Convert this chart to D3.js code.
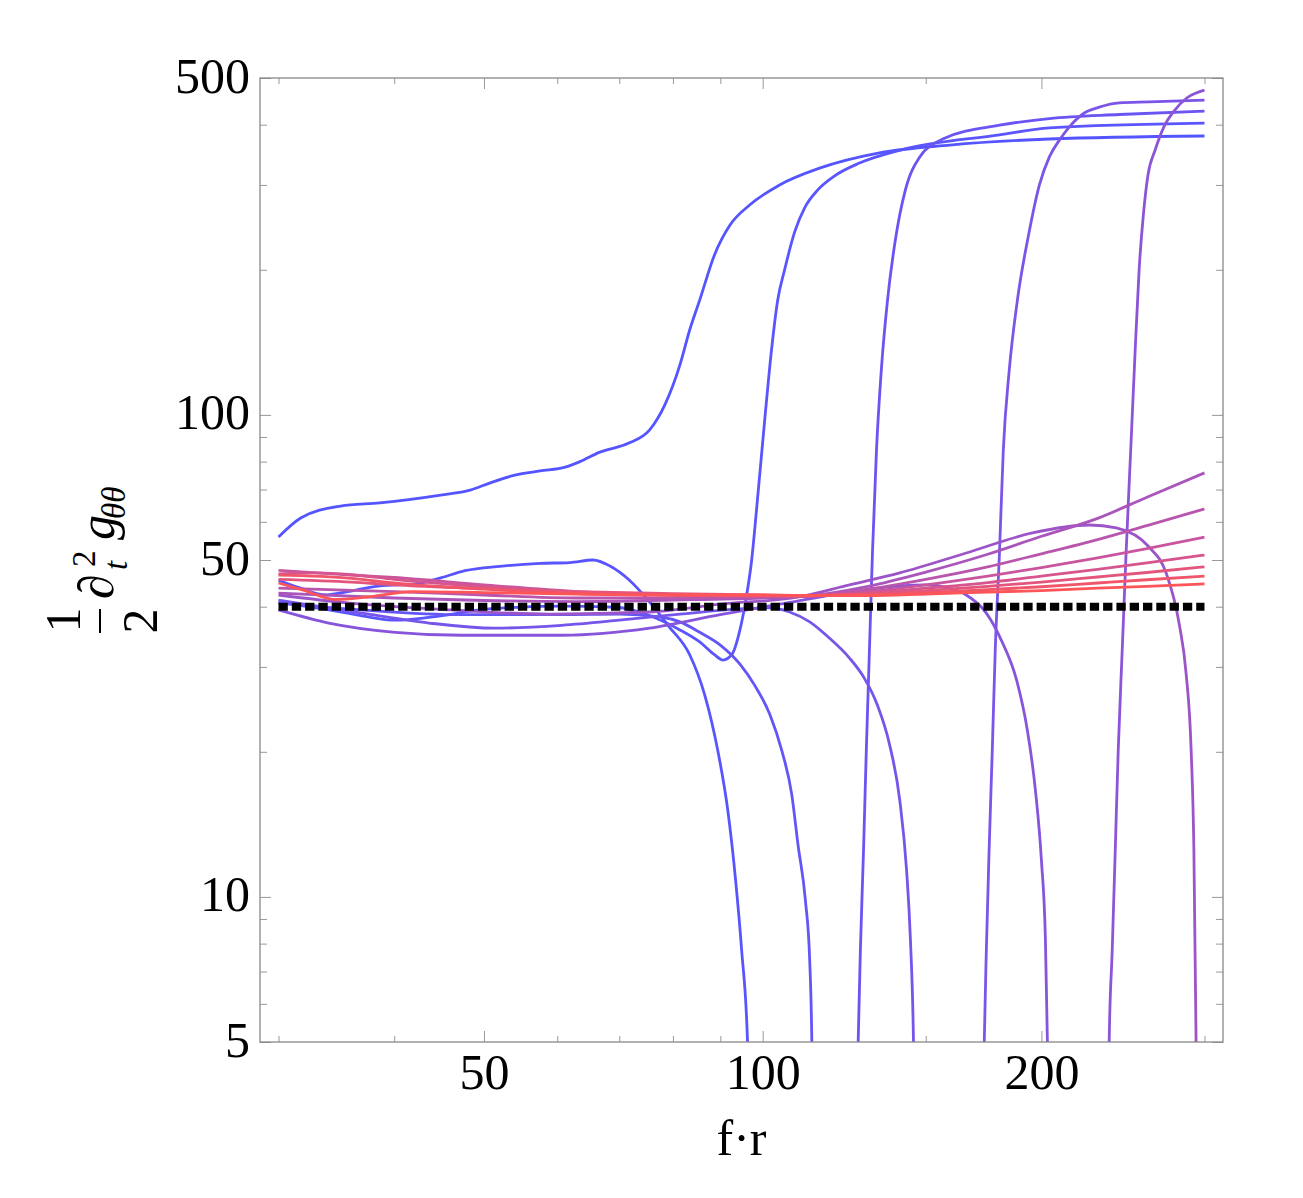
<!DOCTYPE html>
<html><head><meta charset="utf-8">
<script src="https://cdn.jsdelivr.net/npm/d3@7"></script>
<style>body{margin:0;background:#fff;} text{font-family:"Liberation Serif","Times New Roman",serif;}</style>
</head><body>
<script>
// ---------- data ----------
const xTicksMajor = [50, 100, 200];
const xTicksMinor = [30, 40, 60, 70, 80, 90, 150, 300];
const yTicksMajor = [5, 10, 50, 100, 500];
const yTicksMinor = [6, 7, 8, 9, 20, 30, 40, 60, 70, 80, 90, 200, 300, 400];
const xRange = [30, 300];
const yRange = [5, 500];
const refValue = 40;

const U1 = [[30,55.8],[31.7,61.1],[35.0,64.7],[38.6,65.7],[44.9,68.2],[48.3,69.8],[50.7,72.2],[54.0,75.0],[57.5,76.5],[61.2,77.9],[63.4,79.9],[66.7,83.7],[71.8,87.5],[75.5,93.1],[78.4,104.9],[81.4,127],[83.4,150],[85.5,173],[88.7,214.7],[92.2,247.7],[96.8,272.5],[104.3,300],[115.2,325],[133.7,349.6],[159.2,363],[204,373.6],[300,379]];
const U2 = [[30,40.9],[34.0,39.4],[36.9,38.3],[40.1,37.5],[44.9,38.3],[49.4,39.4],[54.7,39.9],[60.4,40.1],[69.6,39.9],[75.5,38.3],[81.4,35.8],[85.5,33.8],[88.7,31.8],[90.6,31.0],[92.6,31.8],[94.5,35.8],[95.9,41.3],[97.3,50],[98.7,66.6],[100.5,97.5],[102.2,136],[103.8,173],[105.6,200],[108.3,240],[111.0,269],[114.7,293],[119.5,313],[127.2,333],[140.6,354],[180.2,381],[204,394],[300,403]];
const D1 = [[30,45.4],[31.7,43.7],[33.7,42.3],[35.4,42.9],[38.6,44.2],[42.2,44.6],[44.9,45.9],[47.7,47.5],[52.0,48.5],[57.5,49.2],[61.9,49.4],[65.6,50],[68.4,48.6],[71.8,45.4],[75.5,40.9],[79.3,36.3],[83.4,31.8],[86.6,26.2],[89.4,20.2],[91.7,15.1],[93.5,10.8],[94.9,7.76],[96.3,5],[96.7,3.79]];
const D2 = [[30,40.7],[36.9,39.4],[47.3,38.5],[60.8,38.5],[70,38.6],[77.4,38.1],[81.4,37.2],[85.5,35.4],[90.0,33.3],[94.5,30.4],[98.0,27.5],[101.8,23.9],[104.8,20.2],[107.5,16.3],[109.2,12.8],[111.2,9.85],[112.4,7.4],[113.0,5],[113.2,3.79]];
const U3 = [[126.3,3.5],[126.8,5],[127.5,7.76],[128.5,12.5],[129.4,20.2],[130.4,32.5],[131.4,52],[132.7,84.3],[134.3,123.6],[136.4,173],[139.1,231],[142.6,293],[147.6,341.6],[157.2,375],[180.2,399],[204,412],[242.7,420],[300,427]];
const D3 = [[30,41.3],[36.9,38.8],[43.6,37.0],[51.4,36.1],[60.7,36.6],[70,37.5],[81.4,38.6],[94.5,39.6],[101.8,39.8],[106.9,39.0],[112.4,37.2],[118.1,34.4],[124.1,31.3],[128.8,28.4],[133.0,25.0],[137.1,20.7],[140.6,15.9],[143.0,11.4],[144.4,8.14],[145.5,5],[145.8,3.79]];
const U4 = [[173,3.5],[173.5,5],[174.4,7.76],[175.6,12.5],[177.0,20.2],[178.3,32.5],[180.2,52],[181.9,84.3],[184.6,123.6],[188.4,173],[194.1,241],[199,300],[204,343],[209.2,372],[214.4,396],[222.5,423],[230.9,435],[242.7,444],[261.4,446],[300,450]];
const D4 = [[30,39.4],[34.0,37.0],[40.1,35.4],[47.3,34.9],[60.8,34.9],[75.5,36.1],[90,38.5],[104.3,40.5],[124.1,42.9],[140.6,44.2],[150,44.4],[159.2,43.7],[165.9,42.3],[174.4,38.8],[181.0,34.1],[188.0,28.2],[193.1,22.2],[197.0,16.7],[200,11.9],[202,8.14],[203,5],[203.4,3.79]];
const U5 = [[236.2,3.79],[236.7,5],[238.5,7.76],[240.3,12.5],[242.1,20.2],[244.5,32.5],[246.9,52],[250.0,88.7],[252.5,136],[255.0,200],[257.7,260],[260.7,315],[265.3,354],[271.2,396],[278.1,427],[287.3,455],[300,472]];
const D5 = [[30,42.3],[35.8,40.7],[46.0,39.4],[58.9,38.6],[75.5,39.0],[90,40.5],[109.2,41.9],[124.1,44.4],[140.6,47.0],[165.9,51.7],[195.6,56.9],[225.3,59.1],[240.9,58.3],[261.4,53.2],[272.7,47.0],[281.6,37.0],[286.6,29.1],[290.2,20.2],[292.2,12.5],[293.8,5],[294.2,3.5]];
const F1 = [[30,42.7],[40,41.7],[50,41.2],[63,41.0],[80,41.3],[100,41.7],[110,42.0],[130,44.1],[150,47.2],[175,51.4],[200,56.0],[230,61.0],[260,67.5],[300,75.8]];
const F2 = [[30,43.7],[40,43.0],[50,42.3],[63,41.7],[80,41.7],[100,41.9],[110,42.0],[130,43.5],[150,45.6],[175,48.4],[200,51.5],[230,55.1],[260,58.9],[300,63.8]];
const F3 = [[30,47.6],[36,46.5],[40,46.0],[50,44.4],[63,43.0],[80,42.3],[100,42.1],[110,42.0],[130,43.0],[150,44.4],[175,46.3],[200,48.2],[230,50.5],[260,52.8],[300,55.8]];
const F4 = [[30,46.8],[33,47.0],[36,46.6],[40,45.6],[50,44.0],[63,42.8],[80,42.3],[100,42.1],[110,42.1],[130,42.7],[150,43.7],[175,44.9],[200,46.3],[230,47.8],[260,49.3],[300,51.2]];
const F5 = [[30,45.6],[36,45.0],[40,44.4],[50,43.6],[63,43.0],[80,42.6],[100,42.3],[110,42.2],[130,42.5],[150,43.2],[175,44.1],[200,45.0],[230,46.1],[260,47.1],[300,48.4]];
const F6 = [[30,46.5],[36,45.8],[40,44.8],[50,43.5],[63,42.6],[80,42.3],[100,42.2],[110,42.2],[130,42.3],[150,42.8],[175,43.4],[200,44.0],[230,44.8],[260,45.5],[300,46.3]];
const F7 = [[30,44.8],[31.9,43.3],[34.6,41.4],[37.4,41.9],[41.9,43.0],[50,42.8],[63,42.5],[80,42.3],[100,42.3],[110,42.2],[130,42.2],[150,42.5],[175,42.9],[200,43.2],[230,43.7],[260,44.1],[300,44.6]];

const seriesList = [U1, U2, D1, D2, U3, D3, U4, D4, U5, D5, F1, F2, F3, F4, F5, F6, F7];
const seriesColors = ["#5555ff","#5b55fd","#5955fe","#6455f7","#6a55f3","#7555ea","#7a55e8","#8655dc","#8c55d8","#9c55c8","#aa55bb","#b955ad","#c8559e","#d6558e","#e3557c","#f0556a","#fd5558"];

// ---------- layout ----------
const W = 1303, H = 1198;
const L = 260, R = 1223, T = 78, B = 1042;
const pad = Math.pow(10, 0.02);

const svg = d3.select("body").append("svg").attr("width", W).attr("height", H);
const x = d3.scaleLog().domain([xRange[0] / pad, xRange[1] * pad]).range([L, R]);
const y = d3.scaleLog().domain(yRange).range([B, T]);

svg.append("defs").append("clipPath").attr("id", "clip")
  .append("rect").attr("x", L).attr("y", T).attr("width", R - L).attr("height", B - T);

const plot = svg.append("g").attr("clip-path", "url(#clip)");
const line = d3.line().x(d => x(d[0])).y(d => y(d[1])).curve(d3.curveMonotoneX);

seriesList.forEach((s, i) => {
  plot.append("path").attr("d", line(s)).attr("fill", "none")
    .attr("stroke", seriesColors[i]).attr("stroke-width", 2.8)
    .attr("stroke-linejoin", "round");
});

plot.append("line")
  .attr("x1", x(xRange[0])).attr("x2", x(xRange[1]))
  .attr("y1", y(refValue)).attr("y2", y(refValue))
  .attr("stroke", "#000").attr("stroke-width", 8).attr("stroke-dasharray", "9.3 4");

// ---------- axes ----------
function styleAxis(g) {
  g.select(".domain").remove();
  g.selectAll(".tick line").attr("stroke", "#999").attr("stroke-width", 1);
  g.selectAll("text").attr("font-family", "Liberation Serif, Times New Roman, serif")
    .attr("font-size", 50).attr("fill", "#000");
}
const fmt = d3.format("d");
const gb = svg.append("g").attr("transform", `translate(0,${B})`)
  .call(d3.axisBottom(x).tickValues(xTicksMajor).tickSize(-11).tickPadding(0).tickFormat(fmt));
styleAxis(gb);
gb.selectAll("text").attr("y", 47).attr("dy", "0");
svg.append("g").attr("transform", `translate(0,${B})`)
  .call(d3.axisBottom(x).tickValues(xTicksMinor).tickSize(-6).tickFormat("")).call(styleAxis);
svg.append("g").attr("transform", `translate(0,${T})`)
  .call(d3.axisTop(x).tickValues(xTicksMajor).tickSize(-11).tickFormat("")).call(styleAxis);
svg.append("g").attr("transform", `translate(0,${T})`)
  .call(d3.axisTop(x).tickValues(xTicksMinor).tickSize(-6).tickFormat("")).call(styleAxis);

const gl = svg.append("g").attr("transform", `translate(${L},0)`)
  .call(d3.axisLeft(y).tickValues(yTicksMajor).tickSize(-11).tickPadding(10).tickFormat(fmt));
styleAxis(gl);
gl.selectAll("text").attr("dy", "0.28em");
svg.append("g").attr("transform", `translate(${L},0)`)
  .call(d3.axisLeft(y).tickValues(yTicksMinor).tickSize(-7).tickFormat("")).call(styleAxis);
svg.append("g").attr("transform", `translate(${R},0)`)
  .call(d3.axisRight(y).tickValues(yTicksMajor).tickSize(-11).tickFormat("")).call(styleAxis);
svg.append("g").attr("transform", `translate(${R},0)`)
  .call(d3.axisRight(y).tickValues(yTicksMinor).tickSize(-7).tickFormat("")).call(styleAxis);

svg.append("rect").attr("x", L).attr("y", T).attr("width", R - L).attr("height", B - T)
  .attr("fill", "none").attr("stroke", "#888").attr("stroke-width", 1.3);

// x title
svg.append("text").attr("x", (L + R) / 2).attr("y", 1155).attr("text-anchor", "middle")
  .attr("font-size", 50).text("f·r");

// y title (rotated)
const yl = svg.append("g").attr("transform", "translate(100,590) rotate(-90)");
yl.append("text").attr("x", -30).attr("y", -20).attr("text-anchor", "middle").attr("font-size", 50).text("1");
yl.append("line").attr("x1", -43).attr("x2", -19).attr("y1", 0).attr("y2", 0).attr("stroke", "#000").attr("stroke-width", 2);
yl.append("text").attr("x", -31).attr("y", 57).attr("text-anchor", "middle").attr("font-size", 50).text("2");
yl.append("text").attr("x", -9).attr("y", 13).attr("font-size", 50).attr("font-style", "italic").text("∂");
yl.append("text").attr("x", 23).attr("y", -5).attr("font-size", 33).text("2");
yl.append("text").attr("x", 20).attr("y", 27).attr("font-size", 33).attr("font-style", "italic").text("t");
yl.append("text").attr("x", 50).attr("y", 14).attr("font-size", 50).attr("font-style", "italic").text("g");
yl.append("text").attr("x", 71).attr("y", 25).attr("font-size", 33).attr("font-style", "italic").text("θθ");
</script>
</body></html>
